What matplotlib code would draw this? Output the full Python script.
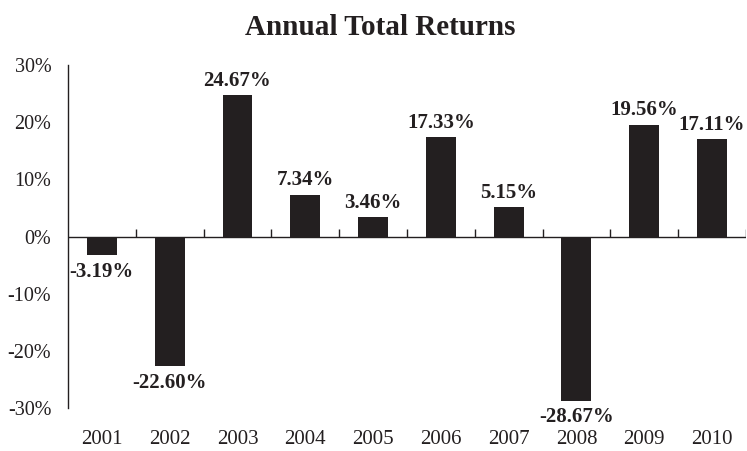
import matplotlib

matplotlib.use("Agg")
import matplotlib.pyplot as plt
import numpy as np

INK = "#231f20"

years = ["2001", "2002", "2003", "2004", "2005", "2006", "2007", "2008", "2009", "2010"]
returns = [-3.19, -22.60, 24.67, 7.34, 3.46, 17.33, 5.15, -28.67, 19.56, 17.11]
yticks = [-30, -20, -10, 0, 10, 20, 30]

plt.rcParams["font.family"] = ["Liberation Serif", "DejaVu Serif"]

fig = plt.figure(figsize=(7.47, 4.51), dpi=100)
ax = fig.add_axes([0.091, 0.095, 0.9075, 0.761])

x = np.arange(len(years))
bars = ax.bar(x, returns, width=0.44, color=INK, zorder=2)

# value labels: above positive bars, below negative ones
for b in bars:
    h = b.get_height()
    ax.annotate(f"{h:.2f}%", (b.get_x() + b.get_width() / 2, h),
                xytext=(0, 3 if h >= 0 else -5), textcoords="offset points",
                ha="center", va="bottom" if h >= 0 else "top",
                fontsize=15, weight="bold", color=INK)

# zero line with boundary ticks
ax.axhline(0, color=INK, lw=1, zorder=3)
ax.vlines(np.arange(len(years)) + 0.5, 0, 1.25, color=INK, lw=1, zorder=3)

ax.set_xlim(-0.5, len(years) - 0.5)
ax.set_ylim(-30, 30)
ax.set_xticks(x, years)
ax.set_yticks(yticks, [f"{t}%" for t in yticks])
ax.tick_params(axis="x", length=0, pad=16, labelsize=15, colors=INK)
ax.tick_params(axis="y", length=0, pad=12, labelsize=14.5, colors=INK)

for side in ("top", "right", "bottom"):
    ax.spines[side].set_visible(False)
ax.spines["left"].set_color(INK)
ax.spines["left"].set_linewidth(1)

fig.text(0.509, 0.94, "Annual Total Returns", ha="center", va="center",
         fontsize=21, weight="bold", color=INK)

fig.savefig("out.png", dpi=100, facecolor="white")
